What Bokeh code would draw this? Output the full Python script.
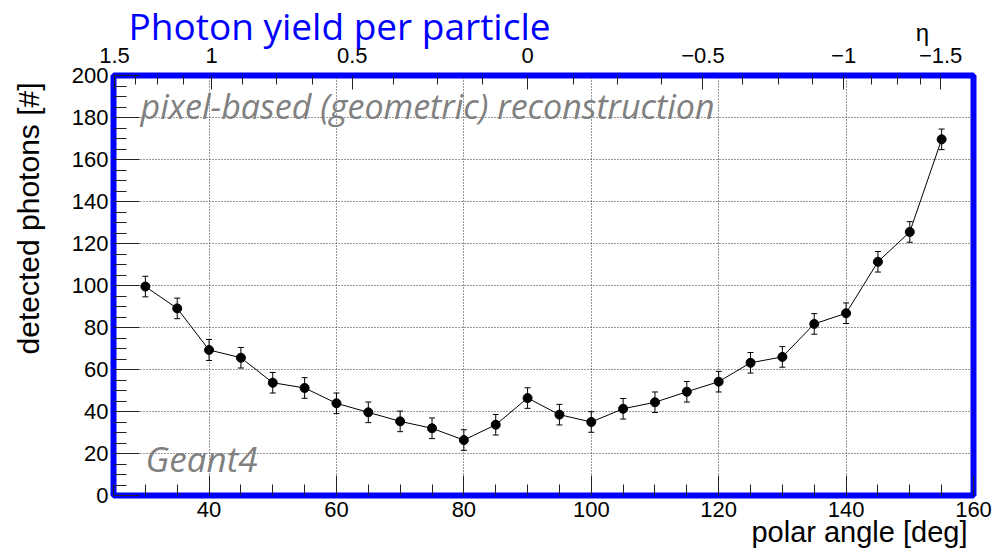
import numpy as np
from bokeh.plotting import figure
from bokeh.models import (ColumnDataSource, Range1d, FixedTicker, LinearAxis,
                          Whisker, TeeHead, Label, Title)
from bokeh.embed import file_html
from bokeh.resources import INLINE

# Photon yield vs. polar angle (Geant4, pixel-based reconstruction)
polar_angle = [30, 35, 40, 45, 50, 55, 60, 65, 70, 75, 80, 85, 90,
               95, 100, 105, 110, 115, 120, 125, 130, 135, 140, 145, 150, 155]
photons = [99.5, 89.1, 69.3, 65.6, 53.7, 51.2, 43.9, 39.6, 35.3, 32.0, 26.4, 33.7, 46.4,
           38.5, 35.0, 41.3, 44.4, 49.4, 54.2, 63.2, 66.0, 81.7, 86.8, 111.3, 125.5, 169.6]
photons_err = [4.9, 4.9, 5.0, 4.9, 4.9, 4.9, 4.9, 4.9, 4.9, 4.9, 4.9, 4.9, 4.9,
               4.9, 4.9, 4.9, 4.9, 4.9, 4.9, 4.9, 4.9, 4.9, 4.9, 4.9, 4.9, 4.9]

# Axis ticks
x_ticks = [40, 60, 80, 100, 120, 140, 160]
x_minor = [25, 30, 35, 45, 50, 55, 65, 70, 75, 85, 90, 95, 105, 110, 115,
           125, 130, 135, 145, 150, 155]
y_ticks = [0, 20, 40, 60, 80, 100, 120, 140, 160, 180, 200]
y_minor = [v for v in range(0, 201, 5) if v % 20]
eta_ticks = [1.5, 1.0, 0.5, 0.0, -0.5, -1.0, -1.5]
eta_labels = ["1.5", "1", "0.5", "0", "\u22120.5", "\u22121", "\u22121.5"]
eta_minor = [e for e in np.arange(-1.5, 1.5001, 0.125) if e not in eta_ticks]


def eta_to_theta(eta):
    """Pseudorapidity -> polar angle in degrees."""
    return float(np.degrees(2.0 * np.arctan(np.exp(-eta))))


theta_major = [eta_to_theta(e) for e in eta_ticks]
theta_minor = [eta_to_theta(e) for e in eta_minor]

src = ColumnDataSource(dict(
    x=polar_angle,
    y=photons,
    lo=[v - e for v, e in zip(photons, photons_err)],
    hi=[v + e for v, e in zip(photons, photons_err)],
))

p = figure(width=997, height=554, title=None,
           x_range=Range1d(25, 160), y_range=Range1d(0, 200),
           output_backend="svg", toolbar_location=None,
           min_border_left=113, min_border_right=24,
           min_border_top=75, min_border_bottom=59)
p.background_fill_color = "white"
p.border_fill_color = "white"
p.outline_line_color = "#0000FF"
p.outline_line_width = 6

TICK_FONT = "Liberation Sans"

# bottom axis: polar angle
xa = p.xaxis[0]
xa.ticker = FixedTicker(ticks=x_ticks, minor_ticks=x_minor)
xa.axis_line_color = None
xa.major_tick_in = 20
xa.major_tick_out = 0
xa.minor_tick_in = 11
xa.minor_tick_out = 0
xa.major_tick_line_color = "#222222"
xa.minor_tick_line_color = "#222222"
xa.major_label_text_font = TICK_FONT
xa.major_label_text_font_size = "22px"
xa.major_label_text_color = "black"
xa.major_label_standoff = 6

# left axis: detected photons
ya = p.yaxis[0]
ya.ticker = FixedTicker(ticks=y_ticks, minor_ticks=y_minor)
ya.axis_line_color = None
ya.major_tick_in = 26
ya.major_tick_out = 0
ya.minor_tick_in = 13
ya.minor_tick_out = 0
ya.major_tick_line_color = "#222222"
ya.minor_tick_line_color = "#222222"
ya.major_label_text_font = TICK_FONT
ya.major_label_text_font_size = "22px"
ya.major_label_text_color = "black"
ya.major_label_standoff = 5

# top axis: pseudorapidity
ta = LinearAxis(ticker=FixedTicker(ticks=theta_major, minor_ticks=theta_minor),
                major_label_overrides={t: l for t, l in zip(theta_major, eta_labels)})
ta.axis_line_color = None
ta.major_tick_in = 14
ta.major_tick_out = 0
ta.minor_tick_in = 9
ta.minor_tick_out = 0
ta.major_tick_line_color = "#222222"
ta.minor_tick_line_color = "#222222"
ta.major_label_text_font = TICK_FONT
ta.major_label_text_font_size = "22px"
ta.major_label_text_color = "black"
ta.major_label_standoff = 13
p.add_layout(ta, "above")

# plot title, kept tight against the top axis
p.title = Title(text="Photon yield per particle", align="left", offset=15,
                vertical_align="bottom", standoff=-12,
                text_font="Open Sans", text_font_size="37px",
                text_font_style="normal", text_color="#0000FF")

# dotted grid
for g in (p.xgrid[0], p.ygrid[0]):
    g.grid_line_color = "#333333"
    g.grid_line_dash = "1 2"
    g.grid_line_width = 1

# data
p.line("x", "y", source=src, line_color="black", line_width=1)
p.add_layout(Whisker(base="x", lower="lo", upper="hi", source=src,
                     dimension="height", line_color="black", line_width=1,
                     upper_head=TeeHead(size=6, line_color="black", line_width=1),
                     lower_head=TeeHead(size=6, line_color="black", line_width=1)))
p.scatter("x", "y", source=src, size=9, fill_color="black", line_color="black")

# texts inside the frame (screen units from the frame's lower-left corner)
p.add_layout(Label(x=27, y=390, x_units="screen", y_units="screen",
                   text="pixel-based (geometric) reconstruction",
                   text_font="Open Sans", text_font_style="italic",
                   text_font_size="34px", text_color="#808080",
                   text_align="left", text_baseline="alphabetic"))
p.add_layout(Label(x=32, y=37, x_units="screen", y_units="screen",
                   text="Geant4", text_font="Open Sans", text_font_style="italic",
                   text_font_size="35px", text_color="#808080",
                   text_align="left", text_baseline="alphabetic"))

# axis titles in the side panels (screen units from each panel's corner)
p.add_layout(Label(x=-7, y=413, x_units="screen", y_units="screen",
                   text="detected photons [#]", text_font=TICK_FONT,
                   text_font_size="30px", text_color="black", angle=np.pi / 2,
                   text_align="right", text_baseline="alphabetic"), "left")
p.add_layout(Label(x=900, y=463, x_units="screen", y_units="screen",
                   text="\u03b7", text_font=TICK_FONT, text_font_size="24px",
                   text_color="black", text_align="center",
                   text_baseline="alphabetic"), "left")
p.add_layout(Label(x=854, y=20, x_units="screen", y_units="screen",
                   text="polar angle [deg]", text_font=TICK_FONT,
                   text_font_size="29px", text_color="black",
                   text_align="right", text_baseline="alphabetic"), "below")

open("out.html", "w").write(file_html(p, INLINE))
